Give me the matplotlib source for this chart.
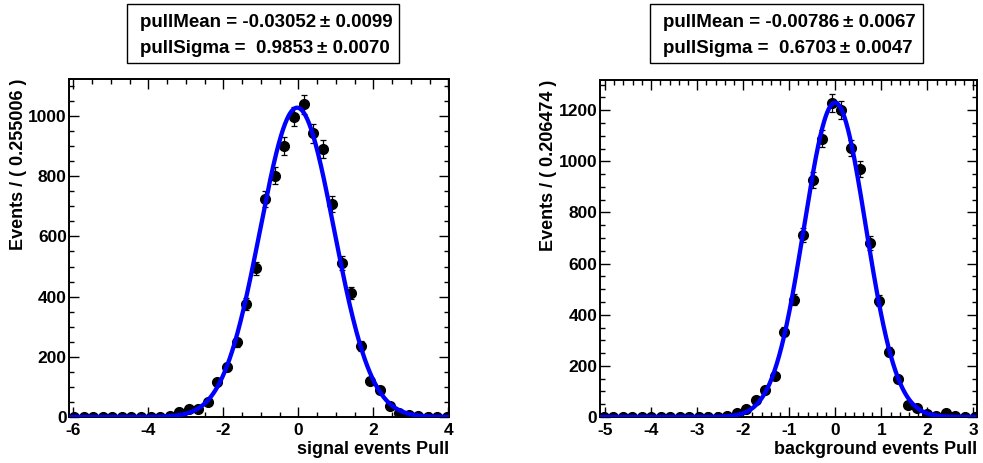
import numpy as np
import matplotlib
matplotlib.use("Agg")
import matplotlib.pyplot as plt
from matplotlib.ticker import MultipleLocator
from matplotlib.patches import Rectangle

plt.rcParams['font.family'] = ['Liberation Sans', 'DejaVu Sans']
plt.rcParams['font.weight'] = 'bold'
plt.rcParams['axes.unicode_minus'] = False

# ---- signal pull distribution ----
sig_bin_width = 0.255006
sig_first_center = -5.98
sig_counts = [0, 0, 0, 0, 0, 0, 0, 0, 0, 0, 2,
              18, 26, 28, 51, 117, 165, 248, 375, 494, 724,
              801, 900, 998, 1039, 942, 890, 707, 511, 411, 236,
              120, 90, 37, 12, 7, 2, 1, 0, 1]
sig_mean, sig_mean_err = -0.03052, 0.0099
sig_sigma, sig_sigma_err = 0.9853, 0.0070
sig_xlim = (-6.107, 4.02)
sig_ylim = (0, 1123)

# ---- background pull distribution ----
bkg_bin_width = 0.206474
bkg_first_center = -5.03
bkg_counts = [0, 0, 0, 0, 0, 0, 0, 0, 0, 0, 0, 0, 0, 2,
              14, 30, 65, 107, 160, 334, 458, 713, 928, 1088,
              1228, 1202, 1052, 971, 680, 454, 256, 148, 48, 35,
              12, 2, 15, 2, 1, 0]
bkg_mean, bkg_mean_err = -0.00786, 0.0067
bkg_sigma, bkg_sigma_err = 0.6703, 0.0047
bkg_xlim = (-5.11, 3.07)
bkg_ylim = (0, 1318)

W, H = 983, 463
fig = plt.figure(figsize=(W / 100, H / 100), dpi=100)


def px_axes(x0, x1, y0, y1):
    return fig.add_axes([x0 / W, 1 - y1 / H, (x1 - x0) / W, (y1 - y0) / H])


def draw_panel(ax, counts, first_center, bin_width, mean, sigma, xlim, ylim,
               xlabel, ylabel, xmajor, xminor, ylabel_x):
    counts = np.asarray(counts, dtype=float)
    centers = first_center + bin_width * np.arange(len(counts))
    errs = np.sqrt(counts)
    ax.errorbar(centers, counts, yerr=errs, fmt='o', color='black',
                markersize=7, elinewidth=0.9, capsize=2.3, capthick=0.9,
                zorder=2, clip_on=True)
    # fitted gaussian, normalised to the histogram content
    norm = counts.sum() * bin_width / (np.sqrt(2 * np.pi) * sigma)
    xs = np.linspace(xlim[0], xlim[1], 800)
    ax.plot(xs, norm * np.exp(-0.5 * ((xs - mean) / sigma) ** 2),
            color='#0000ff', lw=3.1, zorder=3, solid_capstyle='butt')
    ax.set_xlim(*xlim)
    ax.set_ylim(*ylim)
    ax.xaxis.set_major_locator(MultipleLocator(xmajor))
    ax.xaxis.set_minor_locator(MultipleLocator(xminor))
    ax.yaxis.set_major_locator(MultipleLocator(200))
    ax.yaxis.set_minor_locator(MultipleLocator(50))
    ax.tick_params(which='both', direction='in', top=True, right=True,
                   width=1.0, labelsize=12.5)
    ax.tick_params(which='major', length=7.5)
    ax.tick_params(which='minor', length=3.8)
    ax.tick_params(axis='y', pad=1.8)
    ax.tick_params(axis='x', pad=4)
    for lab in ax.get_xticklabels() + ax.get_yticklabels():
        lab.set_fontweight('bold')
    for sp in ax.spines.values():
        sp.set_linewidth(1.4)
    ax.set_xlabel(xlabel, fontsize=13, fontweight='bold', loc='right')
    ax.xaxis.set_label_coords(1.0, -0.072)
    ax.set_ylabel(ylabel, fontsize=13, fontweight='bold', loc='top')
    ax.yaxis.set_label_coords(ylabel_x, 1.0)


def stat_box(x0, x1, y0, y1, text_x, mean, mean_err, sigma, sigma_err):
    fig.patches.append(Rectangle((x0 / W, 1 - y1 / H), (x1 - x0) / W,
                                 (y1 - y0) / H, transform=fig.transFigure,
                                 facecolor='white', edgecolor='black',
                                 lw=1.0))
    line1 = f"pullMean = {mean:.5f}\u2009\u00b1 {mean_err:.4f}"
    line2 = f"pullSigma =  {sigma:.4f}\u2009\u00b1 {sigma_err:.4f}"
    fig.text(text_x / W, 1 - 27 / H, line1, fontsize=13.5, fontweight='bold',
             ha='left', va='baseline')
    fig.text(text_x / W, 1 - 53 / H, line2, fontsize=13.5, fontweight='bold',
             ha='left', va='baseline')


ax1 = px_axes(69.3, 449, 79, 417)
draw_panel(ax1, sig_counts, sig_first_center, sig_bin_width, sig_mean,
           sig_sigma, sig_xlim, sig_ylim, 'signal events Pull',
           f'Events / ( {sig_bin_width:g} )', 2, 0.5, -0.112)

ax2 = px_axes(600, 976.7, 80, 417)
draw_panel(ax2, bkg_counts, bkg_first_center, bkg_bin_width, bkg_mean,
           bkg_sigma, bkg_xlim, bkg_ylim, 'background events Pull',
           f'Events / ( {bkg_bin_width:g} )', 1, 0.2, -0.115)

stat_box(126.7, 399.3, 4, 62.7, 140, sig_mean, sig_mean_err,
         sig_sigma, sig_sigma_err)
stat_box(650, 923, 4, 62.7, 663, bkg_mean, bkg_mean_err,
         bkg_sigma, bkg_sigma_err)

fig.savefig('out.png', dpi=100)
